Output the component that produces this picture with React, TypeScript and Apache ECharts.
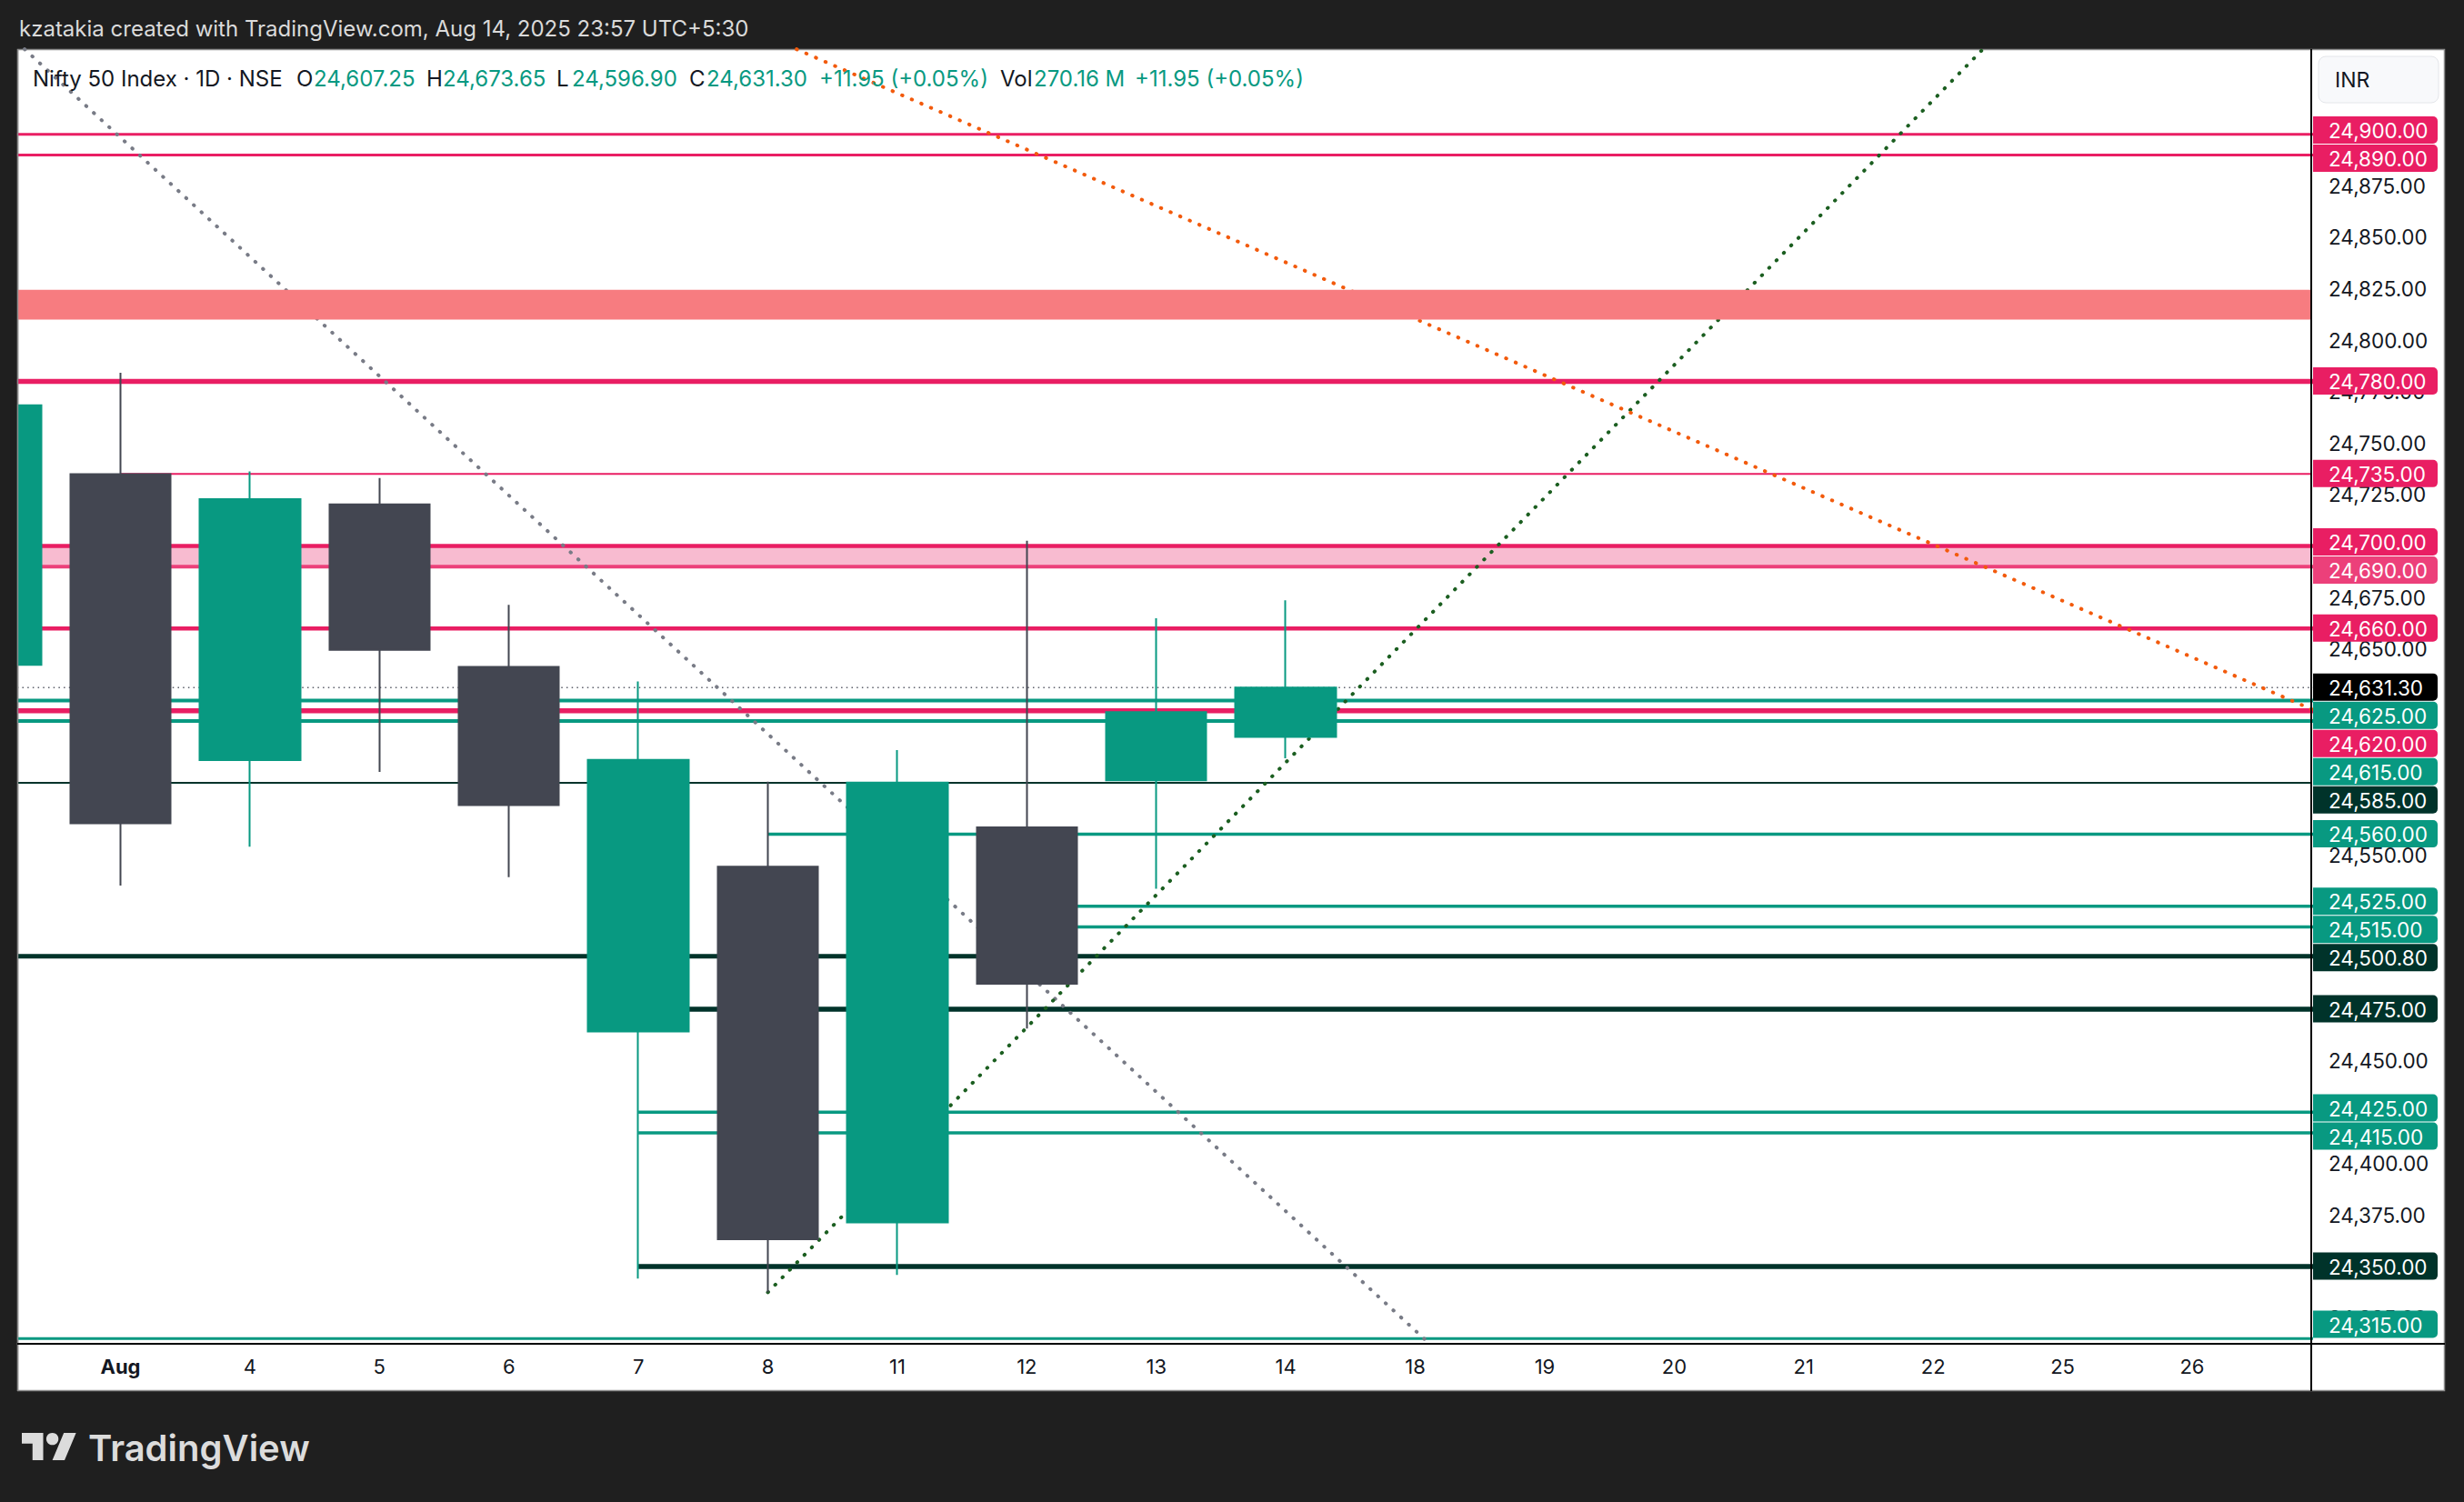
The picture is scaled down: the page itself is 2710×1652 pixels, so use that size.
import React, { useEffect, useRef } from "react";
import * as echarts from "echarts";

// ---------- styling constants ----------
const FONT = "Inter, 'Noto Sans', 'DejaVu Sans', sans-serif";
const GREEN = "#089981";
const CANDLE_DOWN = "#434651";
const PINK = "#e91e63";
const PINK_SOFT = "#ec407a";
const DARK = "#00332a";
const TEXT = "#131722";
const PAGE_BG = "#1f1f1f";

// ---------- data ----------
// x position index: Aug 1 = 0 (trading days)
const DATE_LABELS = ["Aug", "4", "5", "6", "7", "8", "11", "12", "13", "14", "18", "19", "20", "21", "22", "25", "26"];
const BAR_INDEX = [-1, 0, 1, 2, 3, 4, 5, 6, 7, 8, 9];
const BAR_OPEN = [24642.25, 24734.9, 24596.0, 24720.25, 24641.35, 24464.2, 24544.25, 24371.5, 24563.35, 24586.2, 24607.25];
const BAR_CLOSE = [24768.35, 24565.35, 24722.75, 24649.55, 24574.2, 24596.15, 24363.3, 24585.05, 24487.4, 24619.35, 24631.3];
const BAR_LOW = [24635.0, 24535.05, 24554.0, 24590.3, 24539.2, 24344.15, 24337.5, 24346.0, 24465.65, 24533.5, 24596.9];
const BAR_HIGH = [24782.0, 24784.15, 24736.25, 24733.1, 24671.4, 24634.2, 24585.5, 24600.85, 24702.6, 24664.95, 24673.65];

const LAST_PRICE = 24631.3;

// horizontal levels (price, first bar index of the ray; null = whole chart)
const LEVEL_PRICES = [24900, 24890, 24780, 24735, 24700, 24690, 24660, 24625, 24620, 24615, 24585, 24560, 24525, 24515, 24500.8, 24475, 24425, 24415, 24350, 24315];
const LEVEL_FROM: (number | null)[] = [null, null, null, 0, null, null, null, null, null, null, null, 5, 7, 7, null, 4, 4, 4, 4, null];

// zones (low, high)
const ZONE_SOFT = [24690, 24700];
const ZONE_RESIST = [24810, 24824.5];

// trend lines: [barIndex, price] anchors
const TREND_GREY = [[-0.8, 24944.8], [10.12, 24312.0]];
const TREND_GREEN = [[5, 24337.5], [14.5, 24948.8]];
const TREND_ORANGE = [[5.0, 24947.4], [17.0, 24618.6]];

// price-scale ticks that are visible (others are hidden behind level tags)
const PRICE_TICKS = [24325, 24375, 24400, 24450, 24550, 24650, 24675, 24725, 24750, 24775, 24800, 24825, 24850, 24875];

// axis window
const X_MIN = -0.797;
const X_MAX = 16.92;
const Y_MIN = 24312.5;
const Y_MAX = 24941.4;

// ---------- styles for levels (kept apart from data) ----------
const LEVEL_STYLE: { color: string; width: number }[] = [
  { color: PINK, width: 3 },
  { color: PINK, width: 3 },
  { color: PINK, width: 5.5 },
  { color: PINK, width: 2 },
  { color: PINK, width: 4.5 },
  { color: PINK_SOFT, width: 4 },
  { color: PINK, width: 4.5 },
  { color: GREEN, width: 4 },
  { color: PINK, width: 5.5 },
  { color: GREEN, width: 4 },
  { color: DARK, width: 2 },
  { color: GREEN, width: 3.5 },
  { color: GREEN, width: 3.5 },
  { color: GREEN, width: 3.5 },
  { color: DARK, width: 5 },
  { color: DARK, width: 5.5 },
  { color: GREEN, width: 3.5 },
  { color: GREEN, width: 3.5 },
  { color: DARK, width: 5.5 },
  { color: GREEN, width: 3 },
];

const LABEL_PRICES = [...LEVEL_PRICES, LAST_PRICE];
const LABEL_COLORS = [...LEVEL_STYLE.map((s) => s.color), "#000000"];

const fmt = (v: number) =>
  v.toLocaleString("en-US", { minimumFractionDigits: 2, maximumFractionDigits: 2 });

const LABEL_H = 31;
const AXIS_FONT = 22.5;

function layoutLabels(ys: number[], anchor: number, h: number, maxY: number): number[] {
  const order = ys.map((_, i) => i).sort((a, b) => ys[a] - ys[b]);
  const clusters: { items: number[]; start: number }[] = [];
  for (const idx of order) {
    clusters.push({ items: [idx], start: ys[idx] });
    while (clusters.length > 1) {
      const b = clusters[clusters.length - 1];
      const a = clusters[clusters.length - 2];
      const aEnd = a.start + (a.items.length - 1) * h;
      if (b.start - aEnd >= h) break;
      const items = a.items.concat(b.items);
      const k = items.indexOf(anchor);
      let start: number;
      if (k >= 0) start = ys[anchor] - k * h;
      else {
        const mean = items.reduce((s, j) => s + ys[j], 0) / items.length;
        start = mean - ((items.length - 1) / 2) * h;
      }
      clusters.splice(clusters.length - 2, 2, { items, start });
    }
  }
  const out: number[] = new Array(ys.length).fill(0);
  clusters.forEach((c) => c.items.forEach((j, k) => (out[j] = c.start + k * h)));
  let limit = maxY;
  for (let n = order.length - 1; n >= 0; n--) {
    const j = order[n];
    if (out[j] > limit) out[j] = limit;
    limit = out[j] - h;
  }
  return out;
}

// TradingView logo
echarts.graphic.registerShape(
  "tvLogo",
  echarts.graphic.extendPath("M14 22H7V11H0V4h14v18zM28 22h-8l7.5-18h8L28 22z", {})
);

function buildOption(): any {
  const candleData = BAR_INDEX.map((x, i) => [x, BAR_OPEN[i], BAR_CLOSE[i], BAR_LOW[i], BAR_HIGH[i]]);

  const levelSeries = LEVEL_PRICES.map((p, i) => ({
    type: "line",
    z: 2,
    silent: true,
    symbol: "none",
    clip: true,
    emphasis: { disabled: true },
    data: [
      [LEVEL_FROM[i] === null ? -3 : LEVEL_FROM[i], p],
      [20, p],
    ],
    lineStyle: { color: LEVEL_STYLE[i].color, width: LEVEL_STYLE[i].width, type: "solid" },
  }));

  const trend = (pts: number[][], color: string, width: number) => ({
    type: "line",
    z: 3,
    silent: true,
    symbol: "none",
    clip: true,
    emphasis: { disabled: true },
    data: pts,
    lineStyle: { color, width, type: [0.5, 11], cap: "round" },
  });

  const zoneSeries = (zone: number[], color: string, z: number) => ({
    type: "custom",
    z,
    silent: true,
    data: [[X_MIN, zone[0], zone[1]]],
    renderItem: (params: any, api: any) => {
      const cs = params.coordSys;
      const yLow = api.coord([X_MIN, api.value(1)])[1];
      const yHigh = api.coord([X_MIN, api.value(2)])[1];
      return {
        type: "rect",
        shape: { x: cs.x, y: yHigh, width: cs.width, height: yLow - yHigh },
        style: { fill: color },
      };
    },
  });

  const labelSeries = {
    type: "custom",
    z: 10,
    silent: true,
    clip: false,
    data: LABEL_PRICES.map((p) => [X_MIN, p]),
    renderItem: (params: any, api: any) => {
      const cs = params.coordSys;
      const ys = LABEL_PRICES.map((p) => api.coord([X_MIN, p])[1]);
      const pos = layoutLabels(ys, LABEL_PRICES.length - 1, LABEL_H, cs.y + cs.height - 21);
      const i = params.dataIndex;
      const x0 = cs.x + cs.width + 2;
      return {
        type: "group",
        children: [
          {
            type: "rect",
            shape: { x: x0, y: pos[i] - LABEL_H / 2, width: 137, height: LABEL_H - 1, r: [0, 5, 5, 0] },
            style: { fill: LABEL_COLORS[i] },
          },
          {
            type: "text",
            style: {
              text: fmt(LABEL_PRICES[i]),
              x: x0 + 17,
              y: pos[i],
              align: "left",
              verticalAlign: "middle",
              fill: "#ffffff",
              fontSize: AXIS_FONT,
              fontFamily: FONT,
            },
          },
        ],
      };
    },
  };

  const legendParts: [string, number, string][] = [
    ["Nifty 50 Index · 1D · NSE", 36, TEXT],
    ["O", 326, TEXT],
    [fmt(BAR_OPEN[BAR_OPEN.length - 1]), 345, GREEN],
    ["H", 469, TEXT],
    [fmt(BAR_HIGH[BAR_HIGH.length - 1]), 487, GREEN],
    ["L", 612, TEXT],
    [fmt(BAR_LOW[BAR_LOW.length - 1]), 629, GREEN],
    ["C", 758, TEXT],
    [fmt(BAR_CLOSE[BAR_CLOSE.length - 1]), 777, GREEN],
    ["+11.95 (+0.05%)", 901, GREEN],
    ["Vol", 1100, TEXT],
    ["270.16 M", 1137, GREEN],
    ["+11.95 (+0.05%)", 1248, GREEN],
  ];

  const graphic: any[] = [
    {
      type: "rect",
      z: -10,
      silent: true,
      shape: { x: 19.5, y: 54.5, width: 2669, height: 1475 },
      style: { fill: "#ffffff", stroke: "#8c8c8c", lineWidth: 1.5 },
    },
    // mask the page margin left of the pane (partial first candle)
    {
      type: "rect",
      z: 90,
      silent: true,
      shape: { x: 0, y: 54, width: 18.8, height: 1477 },
      style: { fill: PAGE_BG },
    },
    {
      type: "line",
      z: 91,
      silent: true,
      shape: { x1: 19.5, y1: 54, x2: 19.5, y2: 1530 },
      style: { stroke: "#8c8c8c", lineWidth: 1.5 },
    },
    {
      type: "line",
      z: 100,
      silent: true,
      shape: { x1: 2542, y1: 54, x2: 2542, y2: 1530 },
      style: { stroke: "#000000", lineWidth: 2 },
    },
    {
      type: "line",
      z: 100,
      silent: true,
      shape: { x1: 19, y1: 1478, x2: 2689, y2: 1478 },
      style: { stroke: "#000000", lineWidth: 2 },
    },
    {
      type: "rect",
      z: 100,
      silent: true,
      shape: { x: 2550, y: 62, width: 132, height: 51, r: 8 },
      style: { fill: "#f8f9fb", stroke: "#e4e6ea", lineWidth: 1 },
    },
    {
      type: "text",
      z: 101,
      silent: true,
      style: { text: "INR", x: 2568, y: 88, verticalAlign: "middle", fill: TEXT, fontSize: 23, fontFamily: FONT },
    },
    {
      type: "text",
      z: 100,
      silent: true,
      style: {
        text: "kzatakia created with TradingView.com, Aug 14, 2025 23:57 UTC+5:30",
        x: 21,
        y: 31,
        verticalAlign: "middle",
        fill: "#dadada",
        fontSize: 24,
        fontFamily: FONT,
      },
    },
    ...legendParts.map(([t, x, c]) => ({
      type: "text",
      z: 100,
      silent: true,
      style: { text: t, x, y: 86, verticalAlign: "middle", fill: c, fontSize: 24, fontFamily: FONT },
    })),
    {
      type: "tvLogo",
      z: 100,
      silent: true,
      x: 24,
      y: 1569.3,
      scaleX: 1.68,
      scaleY: 1.667,
      style: { fill: "#dcdcdc" },
    },
    {
      type: "circle",
      z: 100,
      silent: true,
      shape: { cx: 24 + 20 * 1.68, cy: 1569.3 + 8 * 1.667, r: 6.7 },
      style: { fill: "#dcdcdc" },
    },
    {
      type: "text",
      z: 100,
      silent: true,
      style: {
        text: "TradingView",
        x: 97,
        y: 1592,
        verticalAlign: "middle",
        fill: "#dcdcdc",
        fontSize: 40,
        fontWeight: 600,
        fontFamily: FONT,
      },
    },
  ];

  return {
    animation: false,
    backgroundColor: PAGE_BG,
    textStyle: { fontFamily: FONT },
    grid: { left: 19, top: 54, width: 2523, height: 1424, containLabel: false, outerBoundsMode: "none" },
    xAxis: {
      type: "value",
      min: X_MIN,
      max: X_MAX,
      axisLine: { show: false },
      axisTick: { show: false },
      splitLine: { show: false },
      axisLabel: {
        customValues: DATE_LABELS.map((_, i) => i),
        formatter: (v: number) => {
          const t = DATE_LABELS[Math.round(v)] ?? "";
          return Math.round(v) === 0 ? `{b|${t}}` : t;
        },
        margin: 14,
        color: TEXT,
        fontSize: 22,
        fontFamily: FONT,
        rich: { b: { fontWeight: "bold", fontSize: 22, color: TEXT, fontFamily: FONT } },
      },
    },
    yAxis: {
      type: "value",
      position: "right",
      min: Y_MIN,
      max: Y_MAX,
      scale: true,
      axisLine: { show: false },
      axisTick: { show: false },
      splitLine: { show: false },
      axisLabel: {
        customValues: PRICE_TICKS,
        formatter: (v: number) => fmt(v),
        margin: 19,
        align: "left",
        color: TEXT,
        fontSize: AXIS_FONT,
        fontFamily: FONT,
      },
    },
    graphic,
    series: [
      zoneSeries(ZONE_SOFT, "#f8bbd0", 1),
      ...levelSeries,
      {
        type: "line",
        z: 2,
        silent: true,
        symbol: "none",
        clip: true,
        emphasis: { disabled: true },
        data: [
          [-3, LAST_PRICE],
          [20, LAST_PRICE],
        ],
        lineStyle: { color: "#5d606b", width: 1.5, type: [1.5, 4.2] },
      },
      trend(TREND_GREY, "#787b86", 4),
      trend(TREND_GREEN, "#1b5e20", 4),
      trend(TREND_ORANGE, "#f25a0c", 4),
      zoneSeries(ZONE_RESIST, "#f77c80", 4),
      {
        type: "candlestick",
        z: 5,
        silent: true,
        clip: true,
        barWidth: 111,
        data: candleData,
        itemStyle: {
          color: GREEN,
          color0: CANDLE_DOWN,
          borderColor: GREEN,
          borderColor0: CANDLE_DOWN,
          borderWidth: 2,
        },
      },
      labelSeries,
    ],
  };
}

export default function App() {
  const ref = useRef<HTMLDivElement>(null);
  useEffect(() => {
    if (!ref.current) return;
    const chart = echarts.init(ref.current, null, { renderer: "svg" });
    chart.setOption(buildOption());
    return () => chart.dispose();
  }, []);
  return (
    <div
      ref={ref}
      style={{ position: "fixed", left: 0, top: 0, width: 2710, height: 1652 }}
    />
  );
}
